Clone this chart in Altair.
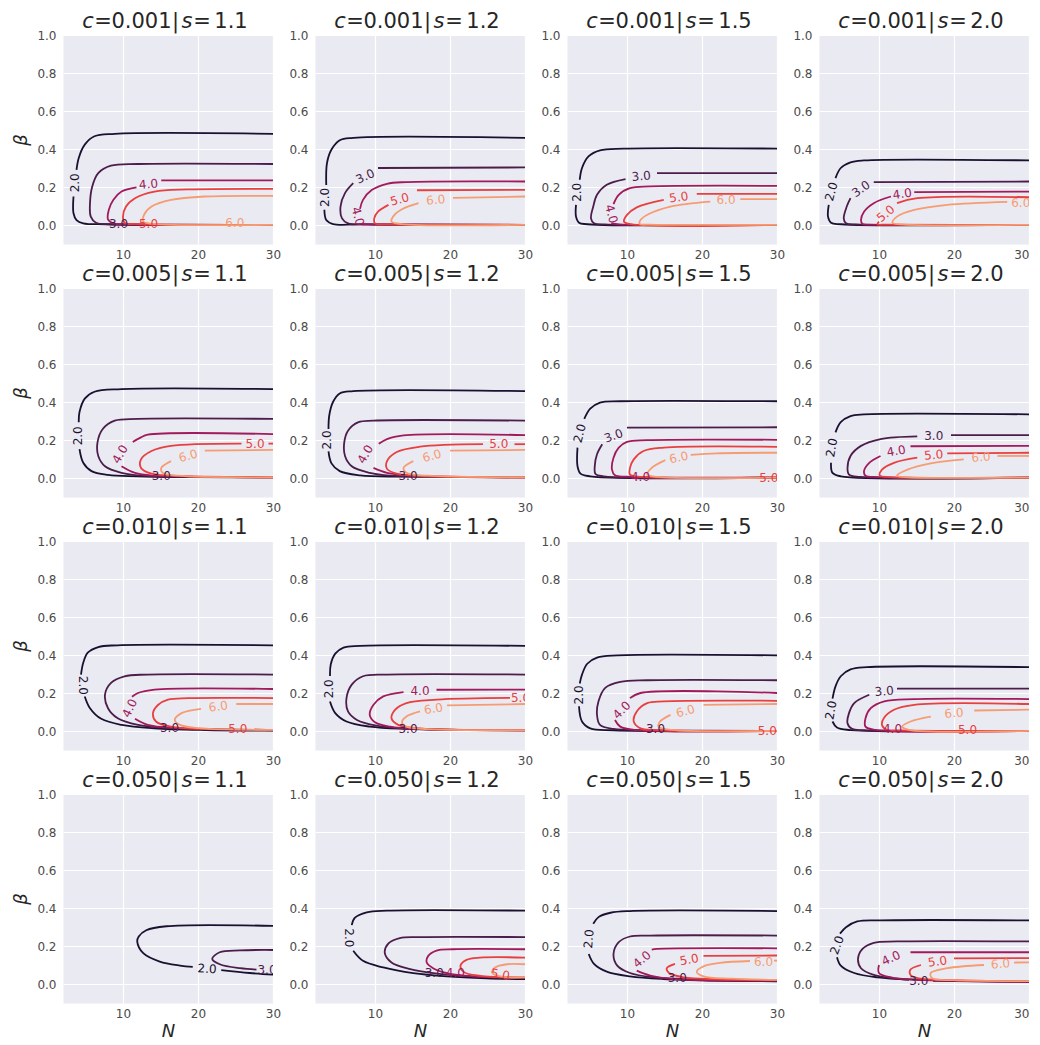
import altair as alt
import pandas as pd

C_LABELS = ["0.001", "0.005", "0.010", "0.050"]
S_LABELS = ["1.1", "1.2", "1.5", "2.0"]
LEVELS = [2, 3, 4, 5, 6]
LEVEL_COLORS = ["#1a1030", "#4c1d4b", "#a11a5b", "#e83f3f", "#f69c73"]
X_TICKS = [10, 20, 30]
Y_TICKS = [0.0, 0.2, 0.4, 0.6, 0.8, 1.0]

# Contour paths: (N, beta); None = gap for an inline label
P11 = {
    2: [(30, .48), (8.9, .48), (6.2, .467), (4.9, .423), (4.1, .353), (3.8, .29), None, (3.4, .15), (3.4, .062), (3.8, .026), (4.7, .009), (7.6, .004), (30, .001)],
    3: [(30, .321), (12, .321), (8.4, .312), (6.7, .273), (5.9, .203), (5.6, .115), (5.7, .044), (6.4, .012), (8.4, .004), (30, .001)],
    4: [(30, .235), (15.1, .235), None, (11.8, .198), (9.8, .176), (8.7, .132), (8.1, .079), (8.0, .03), (8.7, .009), (11, .004), (30, .001)],
    5: [(30, .19), (18.7, .187), (14.2, .176), (11.6, .141), (10.4, .097), (10, .044), (10.2, .012), (12, .005), (30, .001)],
    6: [(30, .153), (20.9, .15), (16.4, .132), (13.8, .097), (12.8, .053), (12.7, .018), (14, .006), (30, .001)],
}
P11_LAB = [(2, 3.55, .222, 270), (3, 9.4, .005, 0), (4, 13.4, .215, 355), (5, 13.4, .005, 0), (6, 24.9, .008, 0)]

P12 = {
    2: [(30, .459), (7.1, .459), (5.3, .446), (4.2, .397), (3.6, .326), (3.5, .21), None, (3.25, .08), (3.5, .026), (4.4, .005), (8, .003), (30, .001)],
    3: [(30, .303), (10.4, .30), None, (7.1, .22), (6, .168), (5.4, .097), (5.6, .035), (6.4, .009), (9, .003), (30, .001)],
    4: [(30, .229), (14.2, .226), (11.6, .217), (9.6, .185), (8.4, .132), (8.0, .085), None, (8.3, .003), (30, .001)],
    5: [(30, .185), (15.6, .183), None, (11.8, .106), (10.4, .07), (9.9, .035), (10, .009), (12, .003), (30, .001)],
    6: [(30, .15), (20.4, .143), None, (15.8, .115), (13.6, .083), (12.4, .044), (12.2, .018), (13.5, .005), (30, .001)],
}
P12_LAB = [(2, 3.3, .145, 270), (3, 8.7, .256, 335), (4, 7.7, .045, 75), (5, 13.3, .135, 345), (6, 18.1, .132, 355)]

P13 = {
    2: [(30, .402), (9.6, .402), (6.4, .393), (4.9, .362), (4.0, .30), (3.7, .238), None, (3.2, .106), (3.2, .044), (3.6, .012), (4.7, .004), (30, .001)],
    3: [(30, .273), (14, .273), None, (9.8, .242), (7.3, .212), (6, .159), (5.5, .097), (5.2, .035), (5.6, .009), (7, .003), (30, .001)],
    4: [(30, .206), (13.1, .203), (10.4, .194), (8.9, .159), (8.2, .11), None, (7.9, .008), (9, .003), (30, .001)],
    5: [(30, .164), (19.3, .164), None, (14.9, .132), (11.3, .093), (10, .053), (9.6, .018), (10.5, .004), (30, .001)],
    6: [(30, .136), (25.1, .136), None, (21.1, .123), (15.8, .097), (12.9, .058), (11.8, .026), (11.7, .005), (13, .002), (30, .001)],
}
P13_LAB = [(2, 3.35, .172, 270), (3, 11.9, .257, 355), (4, 7.9, .058, 75), (5, 16.9, .146, 352), (6, 23.2, .13, 0)]

P14 = {
    2: [(30, .34), (8, .34), (6.2, .33), (4.9, .30), (4.2, .247), None, (3.3, .106), (3.2, .044), (3.6, .012), (4.9, .004), (30, .001)],
    3: [(30, .229), (9.3, .226), None, (6.2, .141), (5.7, .097), (5.3, .035), (5.6, .009), (7, .003), (30, .001)],
    4: [(30, .176), (14.7, .173), None, (11.6, .15), (9.3, .115), (8, .07), (7.6, .026), (7.8, .005), (9, .002), (30, .001)],
    5: [(30, .146), (15.1, .141), (12.4, .115), None, (10, .018), (9.8, .004), (11, .002), (30, .001)],
    6: [(27.1, .122), (19.1, .106), (14.7, .079), (12.4, .044), (11.8, .012), (13, .003), (30, .001)],
}
P14_LAB = [(2, 3.65, .176, 285), (3, 7.6, .19, 325), (4, 13.1, .164, 352), (5, 10.9, .06, 320), (6, 28.9, .117, 0)]

P21 = {
    2: [(30, .468), (9.8, .468), (6.2, .454), (4.9, .418), (4.2, .347), (4.1, .294), None, (4.2, .152), (4.7, .08), (5.8, .036), (8, .016), (12, .009), (18.7, .005), (30, .003)],
    3: [(30, .311), (12, .311), (8.9, .302), (7.3, .258), (6.6, .187), (6.7, .116), (7.6, .062), (9.8, .027), (12.4, .012), (19.6, .006), (30, .003)],
    4: [(30, .231), (13.3, .228), (12.4, .214), (11.3, .19), None, (9.8, .062), (11.6, .027), (14.2, .012), (20, .006), (30, .003)],
    5: [(30, .181), (29.4, .181), None, (25.8, .181), (16.4, .169), (13.8, .142), (12.4, .098), (12.4, .053), (13.8, .023), (16.4, .012), (30, .004)],
    6: [(30, .148), (20.9, .144), None, (16.4, .089), (15.1, .053), (15.3, .027), (17.3, .012), (30, .004)],
}
P21_LAB = [(2, 4.0, .222, 270), (3, 15.1, .009, 0), (4, 9.6, .125, 300), (5, 27.6, .181, 0), (6, 18.7, .116, 345)]

P22 = {
    2: [(30, .457), (7.1, .457), (5.3, .445), (4.4, .40), (3.9, .329), (3.8, .258), None, (3.8, .14), (4.2, .077), (5.3, .036), (8, .014), (13.8, .007), (30, .003)],
    3: [(30, .302), (9.8, .302), (7.8, .294), (6.4, .249), (5.9, .187), (6, .116), (6.9, .062), (9.3, .027), (12, .012), (20, .006), (30, .003)],
    4: [(30, .226), (13.8, .224), (11.6, .205), (10.5, .18), None, (9.8, .053), (11.6, .027), (15, .012), (30, .004)],
    5: [(30, .178), (28.6, .178), None, (24.4, .178), (16, .165), (12.9, .137), (11.6, .089), (11.6, .048), (12.9, .023), (16, .01), (30, .004)],
    6: [(30, .148), (20, .144), None, (15.1, .089), (13.8, .053), (14.2, .027), (17, .012), (30, .004)],
}
P22_LAB = [(2, 3.6, .2, 270), (3, 14.4, .009, 0), (4, 8.7, .125, 300), (5, 26.5, .178, 0), (6, 17.6, .116, 345)]

P23 = {
    2: [(30, .404), (9.1, .404), (6.4, .397), (5.1, .365), (4.3, .311), None, (3.4, .16), (3.4, .062), (3.8, .023), (5.1, .009), (30, .002)],
    3: [(30, .267), (10, .265), None, (6.7, .178), (6, .125), (5.7, .062), (5.8, .021), (6.9, .009), (30, .002)],
    4: [(30, .201), (12.7, .199), (10, .19), (8.9, .16), (8.2, .107), (8, .044), (8.4, .014), (10, .007), (30, .002)],
    5: [(30, .164), (14.9, .16), (12.2, .142), (10.9, .098), (10.4, .053), (10.4, .018), (12, .006), (30, .002)],
    6: [(30, .133), (22, .13), (18.5, .122), None, (15.1, .094), (13.3, .053), (12.7, .018), (14, .006), (30, .002)],
}
P23_LAB = [(2, 3.7, .235, 285), (3, 8.2, .222, 340), (4, 11.8, .007, 0), (5, 28.9, .0, 0), (6, 16.9, .108, 348)]

P24 = {
    2: [(30, .335), (8, .335), (6.2, .326), (4.9, .294), (4.2, .24), None, (3.6, .08), (3.8, .027), (4.9, .009), (30, .002)],
    3: [(30, .226), (19.6, .226), None, (15.1, .219), (10.2, .205), (7.6, .169), (6.2, .116), (5.8, .053), (6, .018), (7.5, .006), (30, .002)],
    4: [(30, .169), (14.2, .167), None, (10.2, .116), (8.7, .08), (8, .036), (8.2, .012), (10, .005), (30, .002)],
    5: [(30, .133), (19.1, .13), None, (15.1, .107), (12, .08), (10.4, .044), (10.1, .014), (11.5, .005), (30, .002)],
    6: [(30, .116), (25.8, .116), None, (21.3, .098), (16.9, .077), (13.8, .044), (12.4, .012), (14, .004), (30, .002)],
}
P24_LAB = [(2, 3.7, .16, 280), (3, 17.3, .222, 0), (4, 12.3, .142, 350), (5, 17.3, .121, 355), (6, 23.6, .11, 355)]

P31 = {
    2: [(30, .451), (9.3, .451), (6.7, .442), (5.3, .412), (4.7, .359), (4.4, .297), None, (4.9, .182), (5.6, .12), (7.1, .064), (9.8, .032), (14.2, .014), (20.9, .005), (30, .002)],
    3: [(30, .297), (13.3, .297), (10.2, .288), (8.4, .253), (7.6, .191), (8, .12), (9.3, .067), (12, .032), (16, .016), (19.6, .011), (30, .004)],
    4: [(30, .221), (14.2, .218), (12, .20), (11.2, .18), None, (11.6, .064), (13.3, .032), (17, .015), (30, .005)],
    5: [(30, .173), (18.7, .173), (16, .165), (14.7, .138), (14, .094), (14.4, .05), (16.4, .023), (20.9, .011), None, (27.5, .008), (30, .005)],
    6: [(30, .142), (25.1, .142), None, (20.4, .117), (17.8, .094), (16.9, .058), (17.6, .032), (20, .015), (30, .006)],
}
P31_LAB = [(2, 4.6, .24, 90), (3, 16.2, .014, 0), (4, 10.9, .12, 295), (5, 25.3, .011, 0), (6, 22.7, .129, 352)]

P32 = {
    2: [(30, .448), (8, .448), (5.8, .439), (4.7, .407), (4.1, .35), (4.0, .29), None, (4.0, .155), (4.7, .094), (6.2, .05), (9.3, .023), (14.2, .011), (30, .003)],
    3: [(30, .297), (11.6, .297), (8.4, .288), (6.9, .244), (6.2, .173), (6.4, .103), (7.6, .058), (10.2, .028), (14.4, .012), (30, .004)],
    4: [(30, .218), (18.2, .217), None, (13.8, .205), (11.1, .182), (9.8, .138), (9.3, .085), (10, .046), (12, .023), (16, .01), (30, .004)],
    5: [(28, .174), (18.2, .165), (14.2, .147), (12.7, .112), (12.2, .067), (13.1, .032), (16, .014), (30, .005)],
    6: [(30, .142), (19.6, .135), None, (16, .103), (14.2, .076), (13.6, .046), (14.2, .023), (17, .01), (30, .004)],
}
P32_LAB = [(2, 3.8, .222, 270), (3, 14.4, .011, 0), (4, 16, .209, 0), (5, 29.4, .174, 0), (6, 17.8, .117, 350)]

P33 = {
    2: [(30, .398), (8.7, .398), (6, .386), (4.7, .354), (4, .297), (3.7, .25), None, (3.6, .13), (4, .05), (5.1, .014), (8.2, .004), (30, .001)],
    3: [(30, .267), (12.7, .267), (9.1, .258), (7.1, .227), (6.2, .156), (6, .085), (6.4, .032), (8.2, .011), (13, .004), (30, .001)],
    4: [(30, .20), (11.8, .20), (10.4, .173), None, (8.4, .058), (9.1, .023), (11.3, .005), (30, .001)],
    5: [(30, .159), (14.9, .156), (12.7, .147), (11.3, .103), (10.9, .05), (11.8, .014), (14, .005), (30, .001)],
    6: [(30, .142), (20.2, .138), None, (15.8, .085), (14.4, .05), (14.2, .023), (16, .006), (30, .001)],
}
P33_LAB = [(2, 3.6, .19, 270), (3, 13.8, .009, 0), (4, 9.3, .11, 315), (5, 28.7, .0, 0), (6, 17.8, .105, 345)]

P34 = {
    2: [(30, .336), (8.4, .336), (6.2, .324), (4.9, .288), (4.2, .235), (3.8, .17), None, (3.8, .05), (4.4, .018), (6.2, .005), (30, .001)],
    3: [(30, .223), (12.4, .223), None, (8.7, .191), (6.7, .147), (6, .094), (5.8, .041), (6.4, .011), (8, .004), (30, .001)],
    4: [(30, .168), (14.7, .168), (10.7, .156), (8.9, .12), (8.2, .067), (8.2, .023), (9.5, .006), (30, .001)],
    5: [(30, .142), (14.7, .138), (12, .112), (10.7, .071), (10.4, .032), (11, .008), (13, .003), (30, .001)],
    6: [(30, .112), (22.7, .108), None, (16.9, .076), (14.2, .05), (13.1, .023), (14, .006), (30, .001)],
}
P34_LAB = [(2, 3.6, .11, 280), (3, 10.7, .209, 355), (4, 11.8, .009, 0), (5, 21.8, .004, 0), (6, 20, .094, 355)]

P41 = {
    2: [(30, .306), (15.8, .304), (13.1, .283), (12.1, .25), (11.9, .223), (12.7, .162), (14.9, .118), (17.6, .097), (19.3, .09), None, (23.1, .073), (26.9, .058), (30, .049)],
    3: [(30, .179), (25.6, .177), (22.9, .167), (21.9, .132), (22.9, .104), (25.6, .083), (27.8, .076)],
    4: [], 5: [], 6: [],
}
P41_LAB = [(2, 21.2, .08, 3), (3, 29.2, .073, 0)]

P42 = {
    2: [(30, .386), (11.6, .386), (8.9, .377), (7.3, .348), (6.9, .31), None, (7.1, .175), (8.4, .122), (11.1, .087), (15.1, .057), (19.6, .04), (24.9, .03), (30, .026)],
    3: [(30, .247), (16, .247), (13.3, .242), (11.8, .214), (11.3, .165), (12.2, .113), (14.7, .078), (17.8, .057), (22.7, .04), (30, .03)],
    4: [(30, .183), (20.4, .183), (18.2, .176), (17.1, .148), (16.9, .113), (17.8, .082), (19.6, .057), (23.1, .04), (30, .032)],
    5: [(30, .139), (24, .139), (22.2, .127), (21.4, .096), (21.8, .064), (24, .043), (30, .035)],
    6: [(30, .104), (27.6, .104), (26, .087), (25.6, .061), (26.7, .04), (30, .035)],
}
P42_LAB = [(2, 6.5, .243, 90), (3, 17.9, .056, 0), (4, 20.7, .056, 0), (5, 26.7, .05, 10)]

P43 = {
    2: [(30, .384), (10.4, .384), (7.8, .375), (6.2, .352), (5.5, .317), None, (4.9, .158), (5.6, .106), (7.3, .065), (10.4, .04), (14.9, .026), (21.6, .018), (30, .014)],
    3: [(30, .255), (13.1, .255), (10.4, .25), (8.9, .22), (8.2, .158), (8.7, .097), (10.4, .058), (13.6, .035), (16.7, .028), (20.2, .021), (30, .016)],
    4: [(30, .188), (14, .185), (13.3, .181), None, (11.3, .07), (13.1, .044), (16.2, .026), (30, .018)],
    5: [(30, .15), (20.2, .148), None, (16.4, .106), (15.3, .083), (15.6, .058), (17.6, .035), (22, .025), (30, .02)],
    6: [(30, .123), (29.6, .123), None, (26.4, .121), (22.4, .111), (20.2, .093), (19.3, .065), (20.2, .04), (24, .028), (30, .022)],
}
P43_LAB = [(2, 4.9, .238, 275), (3, 16.7, .03, 0), (4, 12, .13, 320), (5, 18.3, .128, 350), (6, 28.2, .118, 0)]

P44 = {
    2: [(30, .335), (10.2, .335), (7.1, .329), (5.6, .299), (4.8, .265), None, (4.4, .141), (4.9, .097), (6.7, .058), (9.8, .035), (14.7, .023), (30, .012)],
    3: [(30, .224), (12.4, .224), (9.3, .217), (7.8, .185), (7.2, .132), (7.6, .083), (9.3, .048), (12, .03), (14, .022), None, (17.2, .017), (30, .01)],
    4: [(30, .167), (14.2, .167), None, (10, .1), (10, .058), (11.6, .035), (15, .022), (30, .012)],
    5: [(30, .136), (20, .135), None, (15.6, .1), (14.2, .076), (14.2, .048), (15.3, .03), (20, .02), (30, .014)],
    6: [(30, .114), (28, .113), None, (24, .1), (19.1, .083), (16.9, .058), (17.1, .03), (20, .02), (30, .015)],
}
P44_LAB = [(2, 4.4, .205, 290), (3, 15.3, .018, 0), (4, 11.6, .136, 335), (5, 17.8, .118, 352), (6, 26.2, .106, 355)]

CURVES = [[P11, P12, P13, P14], [P21, P22, P23, P24], [P31, P32, P33, P34], [P41, P42, P43, P44]]
LABELS = [[P11_LAB, P12_LAB, P13_LAB, P14_LAB], [P21_LAB, P22_LAB, P23_LAB, P24_LAB],
          [P31_LAB, P32_LAB, P33_LAB, P34_LAB], [P41_LAB, P42_LAB, P43_LAB, P44_LAB]]

# title pieces: x-centre in px from panel left
TITLE_X = [25, 40, 78.5, 112.5, 124, 139, 168]

W, H = 210, 209
X_DOM = [2, 30]
Y_DOM = [-0.1, 1.0]


def px_to_n(px):
    return X_DOM[0] + px * (X_DOM[1] - X_DOM[0]) / W


color_scale = alt.Scale(domain=LEVELS, range=LEVEL_COLORS)


def curve_frame(curves):
    rows = []
    for lev, pts in curves.items():
        seg, i = 0, 0
        for p in pts:
            if p is None:
                seg += 1
                continue
            rows.append({"N": p[0], "beta": p[1], "level": lev, "seg": f"{lev}-{seg}", "i": i})
            i += 1
    return pd.DataFrame(rows)


def make_panel(r, c):
    df = curve_frame(CURVES[r][c])
    lab = pd.DataFrame([{"level": l, "N": n, "beta": b, "ang": a % 360, "t": f"{l:.1f}"}
                        for (l, n, b, a) in LABELS[r][c]])
    pieces = ["c", "=", C_LABELS[r], "|", "s", "=", S_LABELS[c]]
    italic = [True, False, False, False, True, False, False]
    tdf = pd.DataFrame([{"t": t, "N": px_to_n(x), "it": it} for t, x, it in zip(pieces, TITLE_X, italic)])

    xs = alt.Scale(domain=X_DOM, nice=False, zero=False)
    ys = alt.Scale(domain=Y_DOM, nice=False, zero=False)
    x_axis = alt.Axis(values=X_TICKS, format="d", title="N" if r == 3 else None, labelFlush=(c == 3))
    y_axis = alt.Axis(values=Y_TICKS, format=".1f", title="β" if c == 0 else None)

    lines = alt.Chart(df).mark_line(interpolate="catmull-rom", strokeWidth=1.8, clip=True).encode(
        x=alt.X("N:Q", scale=xs, axis=x_axis),
        y=alt.Y("beta:Q", scale=ys, axis=y_axis),
        color=alt.Color("level:O", scale=color_scale, legend=None),
        detail="seg:N",
        order="i:Q",
    )
    labels = alt.Chart(lab).mark_text(font="DejaVu Sans", fontSize=12, clip=True).encode(
        x="N:Q", y="beta:Q", text="t:N",
        angle=alt.Angle("ang:Q", scale=None),
        color=alt.Color("level:O", scale=color_scale, legend=None),
    )
    t_norm = alt.Chart(tdf[~tdf.it]).mark_text(font="DejaVu Sans", fontSize=21, baseline="alphabetic",
                                               align="center", color="#262626").encode(
        x="N:Q", y=alt.value(-7), text="t:N")
    t_ital = alt.Chart(tdf[tdf.it]).mark_text(font="DejaVu Sans", fontSize=21, fontStyle="italic",
                                              baseline="alphabetic", align="center", color="#262626").encode(
        x="N:Q", y=alt.value(-7), text="t:N")
    return alt.layer(lines, labels, t_norm, t_ital).properties(width=W, height=H)


panels = [make_panel(r, c) for r in range(4) for c in range(4)]
chart = alt.concat(*panels, columns=4, spacing={"row": 44, "column": 42}, bounds="flush").properties(
    padding={"left": 4, "top": 2, "right": 0, "bottom": 0}
).configure_view(fill="#EAEAF2", stroke="transparent").configure_axis(
    labelFont="DejaVu Sans", labelFontSize=12, labelColor="#4a4a4a", labelFlush=False,
    ticks=False, domain=False, grid=True, gridColor="#ffffff", gridWidth=1.2,
    labelPadding=7, titleFont="DejaVu Sans", titleFontSize=18, titleFontStyle="italic",
    titleFontWeight="normal", titleColor="#262626",
).configure_axisY(titlePadding=6).configure_axisX(titlePadding=3, labelPadding=5)

chart.save("out.html", embed_options={"renderer": "svg", "actions": False})
